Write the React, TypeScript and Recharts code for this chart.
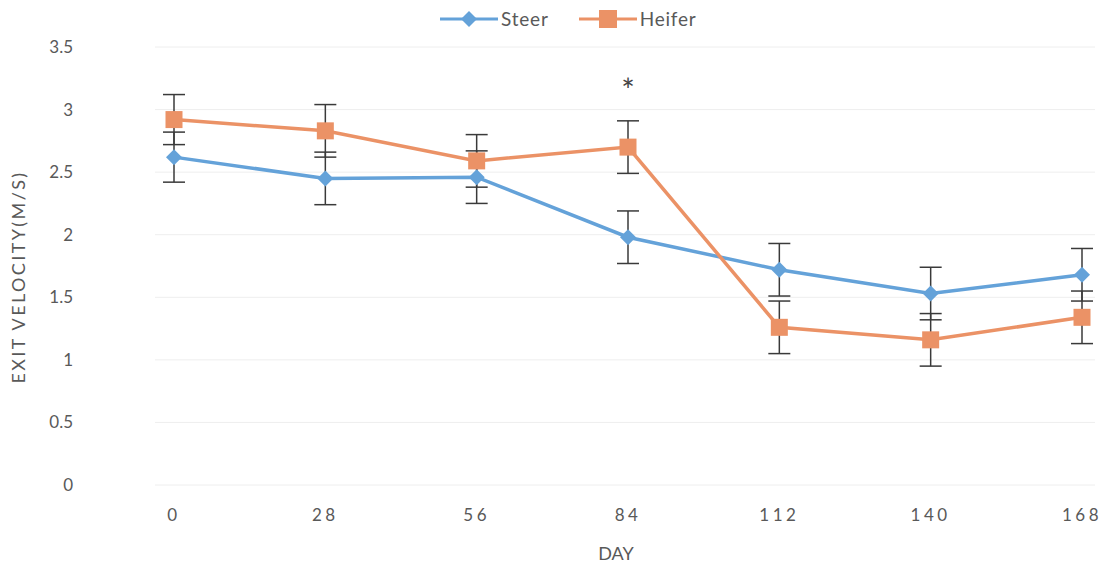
import React from "react";
import { LineChart, Line, XAxis, YAxis, CartesianGrid, ErrorBar, LabelList } from "recharts";

const DAYS = [0, 28, 56, 84, 112, 140, 168];
const STEER = [2.62, 2.45, 2.46, 1.98, 1.72, 1.53, 1.68];
const STEER_SE = [0.2, 0.21, 0.21, 0.21, 0.21, 0.21, 0.21];
const HEIFER = [2.92, 2.83, 2.59, 2.7, 1.26, 1.16, 1.34];
const HEIFER_SE = [0.2, 0.21, 0.21, 0.21, 0.21, 0.21, 0.21];
const SIG = ["", "", "", "*", "", "", ""];
const Y_TICKS = [0, 0.5, 1, 1.5, 2, 2.5, 3, 3.5];

const STEER_COLOR = "#64a2d9";
const HEIFER_COLOR = "#eb9266";
const TEXT = "#595959";
const FONT = "Lato, 'Open Sans', sans-serif";

const data = DAYS.map((d, i) => ({
  day: d,
  steer: STEER[i],
  steerErr: STEER_SE[i],
  heifer: HEIFER[i],
  heiferErr: HEIFER_SE[i],
  sig: SIG[i],
}));

const Diamond = (props: any) => {
  const { cx, cy } = props;
  if (cx == null || cy == null) return null;
  const r = 8;
  return <polygon points={`${cx},${cy - r} ${cx + r},${cy} ${cx},${cy + r} ${cx - r},${cy}`} fill={STEER_COLOR} />;
};

const Square = (props: any) => {
  const { cx, cy } = props;
  if (cx == null || cy == null) return null;
  const h = 8.5;
  return <rect x={cx - h} y={cy - h} width={h * 2} height={h * 2} fill={HEIFER_COLOR} />;
};

function LegendItem({ label, color, kind }: { label: string; color: string; kind: "diamond" | "square" }) {
  return (
    <span style={{ display: "inline-flex", alignItems: "center", marginRight: 30 }}>
      <svg width={58} height={20}>
        <line x1={0} y1={10} x2={58} y2={10} stroke={color} strokeWidth={3} />
        {kind === "diamond" ? (
          <polygon points="29,2 37,10 29,18 21,10" fill={color} />
        ) : (
          <rect x={20} y={1} width={18} height={18} fill={color} />
        )}
      </svg>
      <span style={{ marginLeft: 3 }}>{label}</span>
    </span>
  );
}

// significance marker drawn above the heifer point
const renderSig = (props: any) => {
  const { x, y, width, value } = props;
  if (!value) return null;
  return (
    <text x={x + (width || 0) / 2} y={y - 45} textAnchor="middle" fontFamily={FONT} fontSize={32} fill="#444">
      {value}
    </text>
  );
};

export default function App() {
  return (
    <div style={{ position: "absolute", left: 0, top: 0, width: 1101, height: 564, background: "#fff" }}>
      <div
        style={{
          position: "absolute",
          left: 440,
          top: 8,
          whiteSpace: "nowrap",
          fontFamily: FONT,
          fontSize: 19,
          color: TEXT,
          letterSpacing: 0.8,
          lineHeight: "22px",
        }}
      >
        <LegendItem label="Steer" color={STEER_COLOR} kind="diamond" />
        <LegendItem label="Heifer" color={HEIFER_COLOR} kind="square" />
      </div>
      <LineChart width={1101} height={564} data={data} margin={{ top: 47, right: 6, bottom: 19, left: 0 }}>
        <CartesianGrid horizontal vertical={false} stroke="#eeeeee" />
        <XAxis
          dataKey="day"
          type="number"
          domain={[0, 168]}
          ticks={DAYS}
          padding={{ left: 19, right: 13 }}
          axisLine={false}
          tickLine={false}
          height={60}
          tickMargin={18}
          tick={{ fill: TEXT, fontSize: 17, fontFamily: FONT, letterSpacing: 3.5 }}
          label={{
            content: () => (
              <text x={616} y={560} textAnchor="middle" fontFamily={FONT} fontSize={18} fill={TEXT}>
                DAY
              </text>
            ),
          }}
        />
        <YAxis
          type="number"
          domain={[0, 3.5]}
          ticks={Y_TICKS}
          width={155}
          axisLine={false}
          tickLine={false}
          tickMargin={76}
          tick={{ fill: TEXT, fontSize: 17, fontFamily: FONT }}
          label={{
            content: () => (
              <text
                x={25}
                y={277}
                transform="rotate(-90 25 277)"
                textAnchor="middle"
                fontFamily={FONT}
                fontSize={18}
                letterSpacing={2.4}
                fill={TEXT}
              >
                EXIT VELOCITY(M/S)
              </text>
            ),
          }}
        />
        <Line dataKey="steer" name="Steer" stroke={STEER_COLOR} strokeWidth={3.5} dot={<Diamond />} activeDot={false} isAnimationActive={false}>
          <ErrorBar dataKey="steerErr" width={11} stroke="#3a3a3a" strokeWidth={1.5} />
        </Line>
        <Line dataKey="heifer" name="Heifer" stroke={HEIFER_COLOR} strokeWidth={3.5} dot={<Square />} activeDot={false} isAnimationActive={false}>
          <ErrorBar dataKey="heiferErr" width={11} stroke="#3a3a3a" strokeWidth={1.5} />
          <LabelList dataKey="sig" content={renderSig} />
        </Line>
      </LineChart>
    </div>
  );
}
